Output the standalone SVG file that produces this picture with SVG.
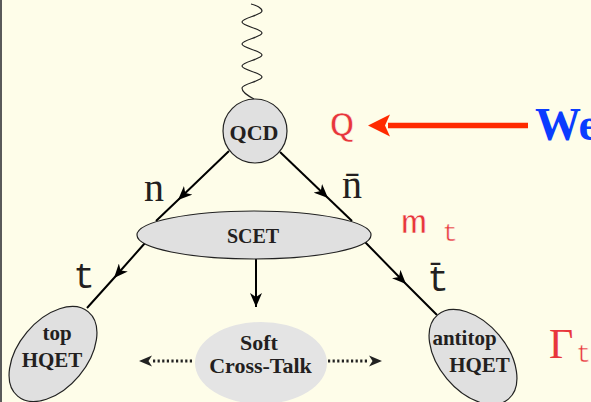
<svg xmlns="http://www.w3.org/2000/svg" width="591" height="402" viewBox="0 0 591 402">
<style>
.bg{fill:#fefde9}
.node{fill:#e0e0e0;stroke:#222;stroke-width:1.2}
.soft{fill:#e4e4e4}
.lbl{font-family:"Liberation Serif",serif;font-weight:bold;fill:#231f20;text-anchor:middle}
.edge{fill:none;stroke:#000;stroke-width:2}
.dot{fill:none;stroke:#222;stroke-width:3;stroke-dasharray:2.2 2.4}
.mono{font-family:"Liberation Mono",monospace}
.serif{font-family:"Liberation Serif",serif}
.red{fill:#e8363c}
.thin{stroke:#fefde9;stroke-width:0.5}
</style>
<defs>
<marker id="ah" viewBox="0 0 14 12" refX="14" refY="6" markerWidth="14" markerHeight="12" markerUnits="userSpaceOnUse" orient="auto">
<path d="M0,0 L14,6 L0,12 L4,6 Z" fill="#000"/>
</marker>
</defs>
<rect class="bg" x="0" y="0" width="591" height="402"/>
<rect x="0" y="0" width="2" height="402" fill="#5a5a5a"/>

<g id="connectors">
<path d="M251,4 C256,5 262,8 262,11 C262,15 242,18 242,22 C242,26 262,29 262,33 C262,37 242,40 242,44 C242,48 262,51 262,55 C262,59 242,62 242,66 C242,70 262,73 262,77 C262,81 242,84 242,88 C242,92 250,97 254,99" fill="none" stroke="#222" stroke-width="1.2"/>
<path class="edge" d="M229,151 L178,200 L156,221" marker-mid="url(#ah)"/>
<path class="edge" d="M280,152 L328,198 L352,221" marker-mid="url(#ah)"/>
<path class="edge" d="M145,243 L114,278 L87,308" marker-mid="url(#ah)"/>
<path class="edge" d="M365,242 L406,284 L437,315" marker-mid="url(#ah)"/>
<path class="edge" d="M256,259 L256,307" marker-end="url(#ah)"/>
<path class="dot" d="M192,361 L152,361"/>
<path d="M152,355.5 L139,361 L152,366.5 L148.5,361 Z" fill="#222"/>
<path class="dot" d="M328,361 L369,361"/>
<path d="M369,355.5 L382,361 L369,366.5 L372.5,361 Z" fill="#222"/>
<path d="M528,125.5 L388,125.5" stroke="#ff2a00" stroke-width="5.5" fill="none"/>
<path d="M368,125.5 L390,114.5 L385,125.5 L390,136.5 Z" fill="#ff2a00"/>
</g>

<g id="qcd">
<circle class="node" cx="255" cy="131" r="32"/>
<text class="lbl" x="254" y="140" font-size="22">QCD</text>
</g>
<g id="scet">
<ellipse class="node" cx="254" cy="235" rx="117" ry="24"/>
<text class="lbl" x="253" y="243" font-size="20">SCET</text>
</g>
<g id="top-hqet">
<ellipse class="node" cx="0" cy="0" rx="34" ry="55" transform="translate(53,354) rotate(40)"/>
<text class="lbl" x="57" y="340" font-size="21">top</text>
<text class="lbl" x="52" y="367" font-size="21">HQET</text>
</g>
<g id="antitop-hqet">
<ellipse class="node" cx="0" cy="0" rx="34" ry="55" transform="translate(473,357) rotate(-40)"/>
<text class="lbl" x="464.5" y="345" font-size="21">antitop</text>
<text class="lbl" x="479.5" y="372" font-size="21">HQET</text>
</g>
<g id="soft">
<ellipse class="soft" cx="261" cy="363" rx="66" ry="41"/>
<text class="lbl" x="259" y="350" font-size="22">Soft</text>
<text class="lbl" x="260.5" y="373" font-size="22">Cross-Talk</text>
</g>

<g id="labels">
<text class="serif" x="144" y="201" font-size="40" fill="#231f20">n</text>
<text class="serif" x="342" y="198" font-size="40" fill="#231f20">n̄</text>
<text class="mono" x="84" y="288" font-size="36" fill="#231f20" text-anchor="middle">t</text>
<text class="mono" x="438" y="291" font-size="36" fill="#231f20" text-anchor="middle">t̄</text>
<text class="mono red thin" font-size="34" text-anchor="middle" transform="translate(342,135) scale(1.25,1)">Q</text>
<text class="mono red thin" font-size="34" text-anchor="middle" transform="translate(414,233) scale(1.3,1)">m</text>
<text class="mono red thin" x="450" y="241" font-size="26" text-anchor="middle">t</text>
<text class="serif red" x="549" y="358" font-size="42">Γ</text>
<text class="mono red thin" x="576" y="362" font-size="25">t</text>
<text class="serif" x="535" y="140" font-size="46" font-weight="bold" fill="#0a3cff">We</text>
</g>
</svg>
